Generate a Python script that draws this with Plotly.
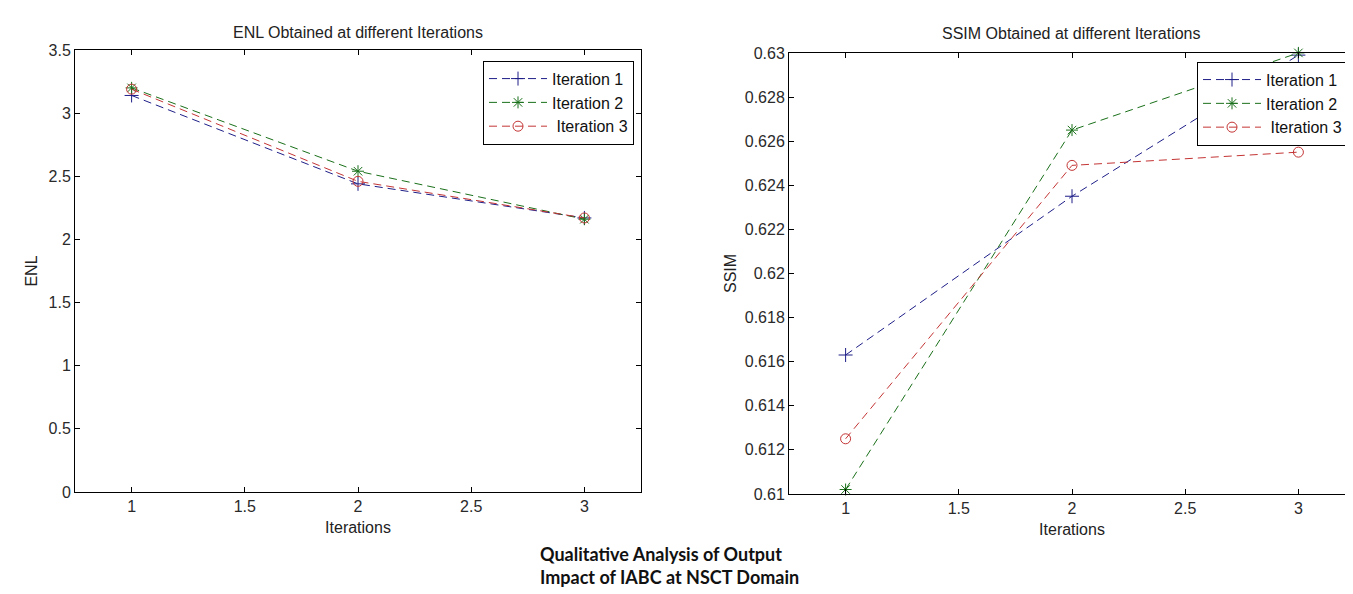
import plotly.graph_objects as go

W, H = 1353, 594

iterations = [1, 2, 3]
series_names = ["Iteration 1", "Iteration 2", "\u00a0Iteration 3"]

enl_iter1 = [3.14, 2.44, 2.17]
enl_iter2 = [3.20, 2.54, 2.16]
enl_iter3 = [3.19, 2.46, 2.17]

ssim_iter1 = [0.6163, 0.6235, 0.6299]
ssim_iter2 = [0.6102, 0.6265, 0.6300]
ssim_iter3 = [0.6125, 0.6249, 0.6255]

x_ticks = [1, 1.5, 2, 2.5, 3]
enl_ticks = [0, 0.5, 1, 1.5, 2, 2.5, 3, 3.5]
ssim_ticks = [0.61, 0.612, 0.614, 0.616, 0.618, 0.62, 0.622, 0.624, 0.626, 0.628, 0.63]

colors = ["#1e1e88", "#1a701a", "#c43434"]
symbols = ["cross-thin-open", "asterisk-open", "circle-open"]

FONT = "Liberation Sans, Arial, sans-serif"
DASH = "8px,5px"

fig = go.Figure()

for vals, name, c, s in zip([enl_iter1, enl_iter2, enl_iter3], series_names, colors, symbols):
    fig.add_trace(go.Scatter(
        x=iterations, y=vals, name=name, mode="lines+markers",
        line=dict(color=c, width=1, dash=DASH),
        marker=dict(symbol=s, size=10, color=c, line=dict(color=c, width=1)),
        xaxis="x", yaxis="y", legend="legend"))

for vals, name, c, s in zip([ssim_iter1, ssim_iter2, ssim_iter3], series_names, colors, symbols):
    fig.add_trace(go.Scatter(
        x=iterations, y=vals, name=name, mode="lines+markers",
        line=dict(color=c, width=1, dash=DASH),
        marker=dict(symbol=s, size=10, color=c, line=dict(color=c, width=1)),
        xaxis="x2", yaxis="y2", legend="legend2", cliponaxis=False))

def px_x(p):
    return p / W

def px_y(p):
    return 1 - p / H

axis_common = dict(
    showline=True, linecolor="black", linewidth=1, mirror="allticks",
    ticks="inside", ticklen=5, tickcolor="black", showgrid=False, zeroline=False,
    tickfont=dict(family=FONT, size=16, color="#2a2a2a"),
)

legend_common = dict(
    bgcolor="white", bordercolor="black", borderwidth=1,
    font=dict(family=FONT, size=16, color="#111111"), itemwidth=58,
    tracegroupgap=0, xanchor="right", yanchor="top",
)

fig.update_layout(
    width=W, height=H,
    margin=dict(l=0, r=0, t=0, b=0),
    paper_bgcolor="white", plot_bgcolor="white",
    font=dict(family=FONT, size=16, color="#222222"),
    xaxis=dict(domain=[px_x(67), px_x(633)], range=[0.75, 3.25], tickvals=x_ticks,
               ticktext=[str(t) for t in x_ticks], anchor="y",
               title=dict(text="Iterations", standoff=7, font=dict(family=FONT, size=16)),
               **axis_common),
    yaxis=dict(domain=[px_y(490), px_y(35)], range=[0, 3.5], tickvals=enl_ticks,
               ticktext=[f"{t:g}" for t in enl_ticks], anchor="x",
               title=dict(text="ENL", standoff=6, font=dict(family=FONT, size=16)),
               **axis_common),
    xaxis2=dict(domain=[px_x(781), px_x(1347)], range=[0.75, 3.25], tickvals=x_ticks,
                ticktext=[str(t) for t in x_ticks], anchor="y2",
                title=dict(text="Iterations", standoff=7, font=dict(family=FONT, size=16)),
                **axis_common),
    yaxis2=dict(domain=[px_y(492), px_y(38)], range=[0.61, 0.63], tickvals=ssim_ticks,
                ticktext=[f"{t:g}" for t in ssim_ticks], anchor="x2",
                title=dict(text="SSIM", standoff=4, font=dict(family=FONT, size=16)),
                **axis_common),
    legend=dict(x=px_x(626), y=px_y(46), **legend_common),
    legend2=dict(x=px_x(1340), y=px_y(47), **legend_common),
    showlegend=True,
    annotations=[
        dict(text="ENL Obtained at different Iterations", x=px_x(350), y=px_y(17),
             xref="paper", yref="paper", showarrow=False, xanchor="center", yanchor="middle",
             font=dict(family=FONT, size=16, color="#222222")),
        dict(text="SSIM Obtained at different Iterations", x=px_x(1063), y=px_y(18),
             xref="paper", yref="paper", showarrow=False, xanchor="center", yanchor="middle",
             font=dict(family=FONT, size=16, color="#222222")),
        dict(text="<b>Qualitative Analysis of Output<br>Impact of IABC at NSCT Domain</b>",
             x=px_x(530), y=px_y(566), xref="paper", yref="paper", showarrow=False,
             xanchor="left", yanchor="middle", align="left",
             font=dict(family="Lato, Open Sans, sans-serif", size=18, color="#111111")),
    ],
)

fig.write_html("out.html")
